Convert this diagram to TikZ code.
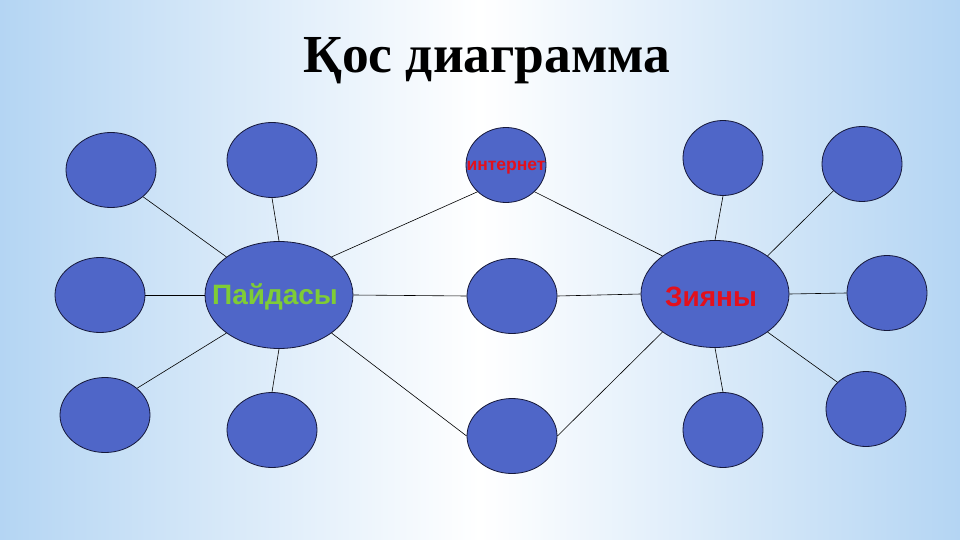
\documentclass[tikz,border=0pt]{standalone}
\usepackage{fontspec}
\setmainfont{Liberation Serif}
\newfontfamily\lsans{Liberation Sans}
\usetikzlibrary{shapes.geometric}
\definecolor{bgblue}{HTML}{B4D5F3}
\definecolor{ballfill}{HTML}{4F66C8}
\definecolor{ballline}{HTML}{15183A}
\definecolor{goodgreen}{HTML}{7FCC36}
\definecolor{badred}{HTML}{E3101C}
\tikzset{
  ball/.style={ellipse, draw=ballline, line width=0.8pt, fill=ballfill, inner sep=0pt,
    minimum width=#1},
  ball/.default=90pt,
  small/.style={ball=80pt, minimum height=75pt},
  med/.style={ball=90pt, minimum height=75pt},
  big/.style={ball=148pt, minimum height=107pt},
  link/.style={draw=black, line width=0.6pt},
  lbl/.style={font=\lsans\bfseries\fontsize{28}{30}\selectfont, inner sep=0pt}
}
\begin{document}
\begin{tikzpicture}[x=1pt,y=-1pt]
\useasboundingbox (0,0) rectangle (960,540);
\shade[left color=bgblue, right color=bgblue, middle color=white] (0,0) rectangle (960,540);
\node[font=\bfseries\fontsize{53.5}{56}\selectfont, anchor=base, inner sep=0pt] (title) at (487,73) {Қос диаграмма};
% left cluster
\node[med] (l1) at (111,170) {};
\node[med] (l2) at (272,160) {};
\node[med] (l3) at (100,295) {};
\node[med] (l4) at (105,415) {};
\node[med] (l5) at (272,430) {};
\node[big] (pai) at (279,295) {};
% middle
\node[small] (int) at (506,165) {};
\node[med] (cm) at (512,296) {};
\node[med] (bc) at (512,436) {};
% right cluster
\node[small] (r1) at (723,158) {};
\node[small] (r2) at (862,164) {};
\node[small] (r3) at (887,293) {};
\node[small] (r4) at (866,409) {};
\node[small] (r5) at (723,430) {};
\node[big] (zi) at (715,294) {};
% labels
\node[lbl, text=goodgreen] (paitxt) at (275,297) {Пайдасы};
\node[lbl, text=badred] (zitxt) at (711,297) {Зияны};
\node[font=\lsans\bfseries\fontsize{17.5}{19}\selectfont, inner sep=0pt, text=badred] (inttxt) at (506,168) {интернет};
% connectors
\draw[link] (l1.south east) -- (pai.north west);
\draw[link] (l2.south) -- (pai.north);
\draw[link] (l3.east) -- (pai.west);
\draw[link] (l4.north east) -- (pai.south west);
\draw[link] (l5.north) -- (pai.south);
\draw[link] (pai.north east) -- (int.south west);
\draw[link] (pai.east) -- (cm.west);
\draw[link] (pai.south east) -- (bc.west);
\draw[link] (int.south east) -- (zi.north west);
\draw[link] (cm.east) -- (zi.west);
\draw[link] (bc.east) -- (zi.south west);
\draw[link] (r1.south) -- (zi.north);
\draw[link] (r2.south west) -- (zi.north east);
\draw[link] (r3.west) -- (zi.east);
\draw[link] (r4.north west) -- (zi.south east);
\draw[link] (r5.north) -- (zi.south);
\end{tikzpicture}
\end{document}
